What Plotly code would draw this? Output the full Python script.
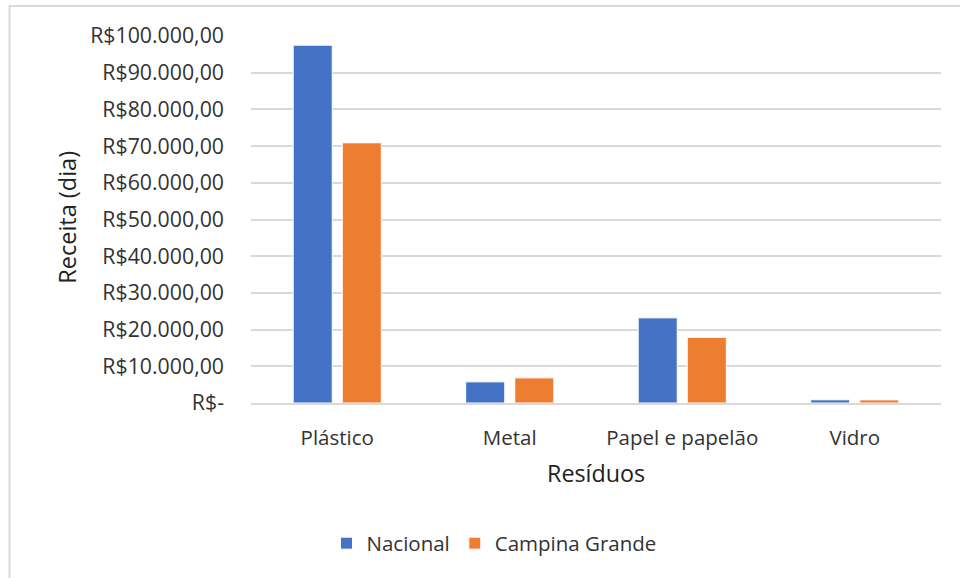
import plotly.graph_objects as go

categories = ["Plástico", "Metal", "Papel e papelão", "Vidro"]
nacional = [97500, 5760, 23200, 870]
campina_grande = [70900, 6850, 17900, 850]
tick_vals = [0, 10000, 20000, 30000, 40000, 50000, 60000, 70000, 80000, 90000, 100000]
tick_text = ["R$-", "R$10.000,00", "R$20.000,00", "R$30.000,00", "R$40.000,00",
             "R$50.000,00", "R$60.000,00", "R$70.000,00", "R$80.000,00",
             "R$90.000,00", "R$100.000,00"]

FONT = "Open Sans"
TXT = "#333333"

fig = go.Figure()
fig.add_trace(go.Bar(x=categories, y=nacional, name="Nacional",
                     marker=dict(color="#4472C4", line=dict(color="#FFFFFF", width=1))))
fig.add_trace(go.Bar(x=categories, y=campina_grande, name="Campina Grande",
                     marker=dict(color="#ED7D31", line=dict(color="#FFFFFF", width=1))))

W, H = 960, 578
L, R, T, B = 251, 19, 36, 174.5
pw, ph = W - L - R, H - T - B

def px(x):
    return (x - L) / pw

def py(y):
    return (H - B - y) / ph

fig.update_layout(
    width=W, height=H,
    margin=dict(l=L, r=R, t=T, b=B, pad=0),
    paper_bgcolor="white", plot_bgcolor="white",
    font=dict(family=FONT, size=20.5, color=TXT),
    barmode="group", bargap=0.431, bargroupgap=0.204,
    showlegend=True,
    legend=dict(orientation="h", x=px(494), y=py(544), xanchor="center", yanchor="middle",
                font=dict(size=20.5, color=TXT), itemwidth=30, traceorder="normal"),
    xaxis=dict(showgrid=False, showline=True, linecolor="#D9D9D9", linewidth=1.5,
               ticks="", ticklabelstandoff=16, tickfont=dict(size=20.5, color=TXT)),
    yaxis=dict(range=[0, 100000], tickvals=tick_vals, ticktext=tick_text,
               showgrid=True, gridcolor="#D9D9D9", gridwidth=1.5, zeroline=False,
               showline=False, ticks="", ticklabelstandoff=26,
               tickfont=dict(size=21.3, color=TXT)),
    shapes=[dict(type="rect", xref="paper", yref="paper",
                 x0=px(9.5), x1=px(975), y0=py(600), y1=py(6),
                 line=dict(color="#D9D9D9", width=2), fillcolor="rgba(0,0,0,0)", layer="below")],
    annotations=[
        dict(text="Receita (dia)", xref="paper", yref="paper", x=px(67), y=py(218),
             textangle=-90, showarrow=False, xanchor="center", yanchor="middle",
             font=dict(size=23.5, color="#222222")),
        dict(text="Resíduos", xref="paper", yref="paper", x=px(596), y=py(474),
             showarrow=False, xanchor="center", yanchor="middle",
             font=dict(size=23.3, color="#222222")),
    ],
)

fig.write_html("out.html")
